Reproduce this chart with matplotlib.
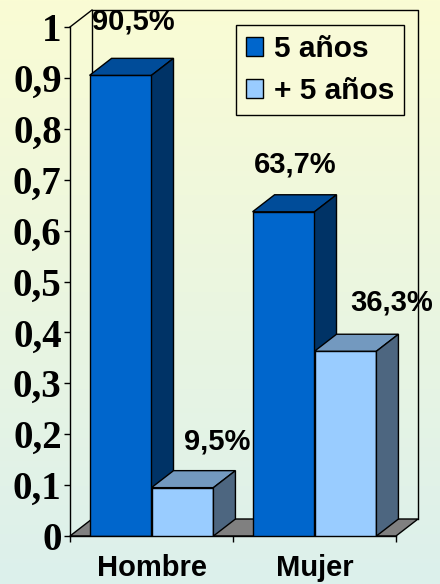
import matplotlib.pyplot as plt
import numpy as np
from matplotlib.patches import Polygon, Patch

# datos
categorias = ['Hombre', 'Mujer']
series = ['5 años', '+ 5 años']
valores = [[0.905, 0.637],   # 5 años
           [0.095, 0.363]]   # + 5 años
etiquetas = [['90,5%', '63,7%'],
             ['9,5%', '36,3%']]
yticks = [0, 0.1, 0.2, 0.3, 0.4, 0.5, 0.6, 0.7, 0.8, 0.9, 1.0]
ytick_labels = ['0', '0,1', '0,2', '0,3', '0,4', '0,5', '0,6', '0,7', '0,8', '0,9', '1']

# estilos (frente, tapa, lado)
colores = [('#0066CC', '#004C99', '#003366'),
           ('#99CCFF', '#7399BF', '#4D6680')]
# desplazamiento de las etiquetas en pixeles
lab_dx = [[2, 1], [24, 35]]
lab_dy = [[37, 30], [29, 32]]

W, H = 440, 584
fig = plt.figure(figsize=(W / 100, H / 100), dpi=100)

# fondo degradado
bg = fig.add_axes([0, 0, 1, 1], zorder=-10)
g = np.linspace(0, 1, 256)[:, None, None]
top = np.array([250, 252, 212]) / 255
bot = np.array([220, 240, 236]) / 255
bg.imshow(top * (1 - g) + bot * g, aspect='auto', extent=[0, 1, 0, 1])
bg.axis('off')

AX_L, AX_B, AX_W, AX_H = 70, 48, 326, 509
ax = fig.add_axes([AX_L / W, AX_B / H, AX_W / W, AX_H / H])
ax.set_xlim(0, 2)
ax.set_ylim(0, 1)
ax.patch.set_visible(False)

DX, DY = 22, 17
ddx = DX / AX_W * 2
ddy = DY / AX_H * 1

# suelo y pared del fondo
ax.add_patch(Polygon([(0, 0), (ddx, ddy), (2 + ddx, ddy), (2, 0)], closed=True,
                     facecolor='#808080', edgecolor='black', lw=1, clip_on=False, zorder=1))
ax.plot([ddx, ddx, 2 + ddx, 2 + ddx], [ddy, 1 + ddy, 1 + ddy, ddy],
        color='black', lw=1, clip_on=False, zorder=1)
ax.plot([0, ddx], [1, 1 + ddy], color='black', lw=1, clip_on=False, zorder=1)

w = 0.38
z = 2
for k in range(len(categorias)):
    c = 0.5 + k
    for i in range(len(series)):
        v = valores[i][k]
        x0 = c - w + i * w
        x1 = x0 + w
        fc, tc, sc = colores[i]
        ax.bar(x0, v, width=w, align='edge', color=fc, edgecolor='black',
               lw=1, zorder=z)
        ax.add_patch(Polygon([(x0, v), (x0 + ddx, v + ddy), (x1 + ddx, v + ddy), (x1, v)],
                             closed=True, facecolor=tc, edgecolor='black', lw=1,
                             clip_on=False, zorder=z))
        ax.add_patch(Polygon([(x1, 0), (x1 + ddx, ddy), (x1 + ddx, v + ddy), (x1, v)],
                             closed=True, facecolor=sc, edgecolor='black', lw=1,
                             clip_on=False, zorder=z))
        ax.annotate(etiquetas[i][k], xy=(x0 + w / 2 + ddx / 2, v + ddy),
                    xytext=(lab_dx[i][k], lab_dy[i][k]), textcoords='offset pixels',
                    ha='center', va='center', fontsize=21, fontweight='bold',
                    family='Liberation Sans', zorder=20, annotation_clip=False)
        z += 1

# ejes
for s in ['top', 'right']:
    ax.spines[s].set_visible(False)
ax.spines['left'].set_linewidth(1)
ax.spines['bottom'].set_linewidth(1)
ax.spines['left'].set_zorder(15)

ax.set_yticks(yticks)
ax.set_yticklabels(ytick_labels, fontsize=28, fontweight='bold', family='Liberation Serif')
ax.tick_params(axis='y', direction='out', length=4.5, width=1, pad=1.5)

ax.set_xticks([0, 1, 2])
ax.set_xticklabels(['', '', ''])
ax.tick_params(axis='x', which='major', direction='out', length=4.5, width=1)
ax.set_xticks([0.5, 1.5], minor=True)
ax.set_xticklabels(categorias, minor=True, fontsize=21, fontweight='bold',
                   family='Liberation Sans')
ax.tick_params(axis='x', which='minor', length=0, pad=13)

handles = [Patch(facecolor=colores[i][0], edgecolor='black', lw=1) for i in range(2)]
leg = ax.legend(handles, series, loc='upper left',
                bbox_to_anchor=(236 / W, 1 - 25 / H), bbox_transform=fig.transFigure,
                borderaxespad=0, fancybox=False, framealpha=1, facecolor='#F8FAD8',
                edgecolor='black', handlelength=0.6, handleheight=0.6,
                handletextpad=0.35, labelspacing=0.5, borderpad=0.32,
                prop={'family': 'Liberation Sans', 'weight': 'bold', 'size': 21.5})
leg.get_frame().set_linewidth(1)
leg.set_zorder(30)

fig.savefig('out.png', dpi=100)
